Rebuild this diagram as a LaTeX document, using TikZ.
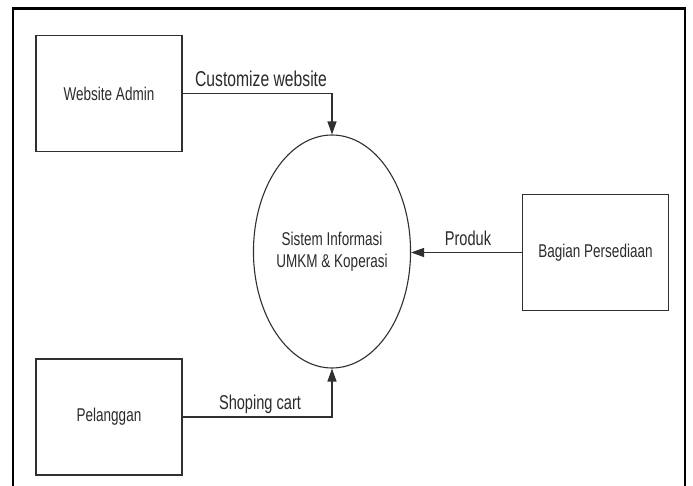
\documentclass[tikz,border=0pt]{standalone}
\usepackage{fontspec}
\setmainfont{Liberation Sans}[FakeStretch=0.73]
\usetikzlibrary{arrows.meta,shapes.geometric}
\definecolor{ink}{HTML}{2B2B2B}
\definecolor{linec}{HTML}{303030}
\tikzset{
  entity/.style={draw=linec, line width=1.3pt, fill=white, minimum width=146pt, minimum height=116pt,
    inner sep=0pt, text=ink, font=\fontsize{18.5}{22}\selectfont},
  proc/.style={ellipse, draw=linec, line width=1.1pt, minimum width=148pt, minimum height=233pt,
    inner sep=0pt, text=ink, align=center, font=\fontsize{18.5}{22}\selectfont},
  flow/.style={draw=linec, line width=1.3pt, -{Triangle[length=13pt,width=9pt]}},
  flowlabel/.style={anchor=base, text=ink, inner sep=0pt}
}
\begin{document}
\begin{tikzpicture}[x=1pt,y=-1pt]
\useasboundingbox (0,0) rectangle (693,486);
\fill[white] (0,0) rectangle (693,486);
% outer frame
\draw[line width=2.4pt, black] (13,486) -- (13,8.5) -- (685,8.5) -- (685,486);
% nodes
\node[entity] (wa) at (109,93.5) {Website Admin};
\node[entity] (pl) at (109,417) {Pelanggan};
\node[entity] (bp) at (595.5,252.5) {Bagian Persediaan};
\node[proc] (sys) at (332,251.5) {Sistem Informasi\\UMKM \& Koperasi};
% flows
\coordinate (c1) at (sys.north |- wa.east);
\coordinate (c2) at (sys.south |- pl.east);
\draw[flow] (wa.east) -- (c1) -- (sys.north);
\draw[flow] (pl.east) -- (c2) -- (sys.south);
\draw[flow] (bp.west) -- (bp.west -| sys.east);
% labels
\node[flowlabel, font=\fontsize{21.5}{24}\selectfont] (l1) at (261,87) {Customize website};
\node[flowlabel, font=\fontsize{20}{24}\selectfont] (l2) at (260,409) {Shoping cart};
\node[flowlabel, font=\fontsize{20}{24}\selectfont] (l3) at (468,246) {Produk};
\end{tikzpicture}
\end{document}
